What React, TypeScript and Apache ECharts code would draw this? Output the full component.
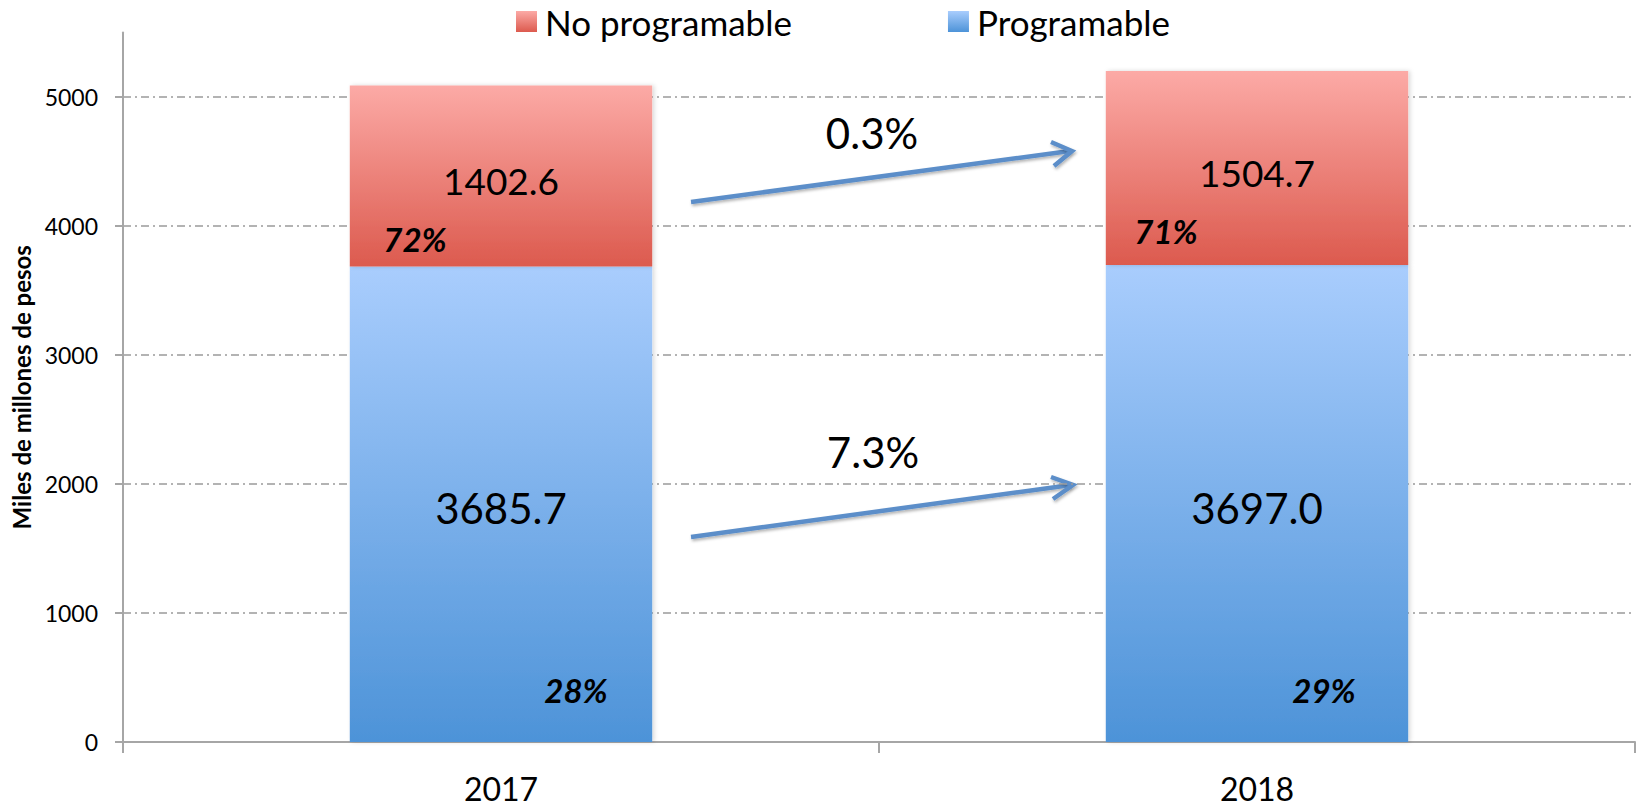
import React, { useEffect, useRef } from "react";
import * as echarts from "echarts";

const categories = ["2017", "2018"];
const programable = [3685.7, 3697.0];
const noProgramable = [1402.6, 1504.7];
const yTicks = [0, 1000, 2000, 3000, 4000, 5000];
const shareNoProg = ["72%", "71%"];
const shareProg = ["28%", "29%"];
const changeTop = "0.3%";
const changeBottom = "7.3%";
const seriesNames = ["No programable", "Programable"];

const FONT = 'Lato, "Open Sans", sans-serif';
const AXIS_GRAY = "#a6a6a6";
const GRID_GRAY = "#9a9a9a";
const ARROW = "#5b8ec9";

export default function App() {
  const ref = useRef<HTMLDivElement>(null);
  useEffect(() => {
    if (!ref.current) return;
    const chart = echarts.init(ref.current, null, { renderer: "svg" });
    const redGrad = new echarts.graphic.LinearGradient(0, 0, 0, 1, [
      { offset: 0, color: "#fcaaa6" },
      { offset: 1, color: "#dc5a4e" },
    ]);
    const blueGrad = new echarts.graphic.LinearGradient(0, 0, 0, 1, [
      { offset: 0, color: "#a9cdfd" },
      { offset: 1, color: "#4d93d8" },
    ]);
    const pctLabel = {
      show: true,
      position: "inside",
      formatter: "{b}",
      fontSize: 33,
      fontWeight: "bold",
      fontStyle: "italic",
      color: "#000",
      fontFamily: FONT,
    };
    const arrowStyle = {
      stroke: ARROW,
      lineWidth: 4.5,
      shadowBlur: 3,
      shadowColor: "rgba(0,0,0,0.3)",
      shadowOffsetY: 2,
      shadowOffsetX: 1,
    };
    chart.setOption({
      animation: false,
      textStyle: { fontFamily: FONT },
      grid: {
        left: 123,
        right: 5,
        top: 32.5,
        bottom: 66,
        containLabel: false,
        outerBoundsMode: "none",
      },
      legend: {
        data: seriesNames,
        left: 516,
        top: 4,
        padding: 0,
        itemWidth: 21,
        itemHeight: 21,
        itemGap: 156,
        icon: "rect",
        textStyle: { fontSize: 35, color: "#000", fontFamily: FONT, padding: [0, 0, 0, 3] },
      },
      xAxis: {
        type: "category",
        data: categories,
        boundaryGap: true,
        axisLine: { show: true, lineStyle: { color: AXIS_GRAY, width: 2 } },
        axisTick: { show: true, length: 11, lineStyle: { color: AXIS_GRAY, width: 2 } },
        axisLabel: { fontSize: 32, margin: 30, color: "#000", fontFamily: FONT },
        splitLine: { show: false },
      },
      yAxis: {
        type: "value",
        min: 0,
        max: 5500,
        interval: 1000,
        name: "Miles de millones de pesos",
        nameLocation: "middle",
        nameGap: 87,
        nameRotate: 90,
        nameTextStyle: { fontSize: 24, fontWeight: "bold", color: "#000", fontFamily: FONT },
        axisLine: { show: true, lineStyle: { color: AXIS_GRAY, width: 2 } },
        axisTick: { show: true, length: 8, customValues: yTicks, lineStyle: { color: AXIS_GRAY, width: 2 } },
        axisLabel: {
          customValues: yTicks,
          fontSize: 23,
          margin: 25,
          color: "#000",
          fontFamily: FONT,
          formatter: (v: number) => String(v),
        },
        splitLine: {
          show: true,
          lineStyle: { color: GRID_GRAY, width: 1.5, type: [8, 4, 2, 4] },
        },
      },
      series: [
        {
          name: "Programable",
          type: "bar",
          stack: "total",
          barWidth: "40%",
          data: programable,
          itemStyle: { color: blueGrad, shadowBlur: 4, shadowColor: "rgba(0,0,0,0.15)", shadowOffsetX: 2 },
          label: {
            show: true,
            position: "inside",
            formatter: (p: any) => Number(p.value).toFixed(1),
            fontSize: 42,
            color: "#000",
            fontFamily: FONT,
            offset: [0, 4],
            textBorderWidth: 0,
          },
          markPoint: {
            symbol: "circle",
            symbolSize: 1,
            itemStyle: { color: "rgba(0,0,0,0)" },
            label: pctLabel,
            data: [
              { name: shareProg[0], coord: [categories[0], 0], label: { offset: [75, -52] } },
              { name: shareProg[1], coord: [categories[1], 0], label: { offset: [67, -52] } },
            ],
          },
        },
        {
          name: "No programable",
          type: "bar",
          stack: "total",
          barWidth: "40%",
          data: noProgramable,
          itemStyle: { color: redGrad, shadowBlur: 4, shadowColor: "rgba(0,0,0,0.15)", shadowOffsetX: 2 },
          label: {
            show: true,
            position: "inside",
            formatter: (p: any) => Number(p.value).toFixed(1),
            fontSize: 37,
            color: "#000",
            fontFamily: FONT,
            offset: [0, 4],
            textBorderWidth: 0,
          },
          markPoint: {
            symbol: "circle",
            symbolSize: 1,
            itemStyle: { color: "rgba(0,0,0,0)" },
            label: pctLabel,
            data: [
              { name: shareNoProg[0], coord: [categories[0], programable[0]], label: { offset: [-86, -28] } },
              { name: shareNoProg[1], coord: [categories[1], programable[1]], label: { offset: [-91, -34] } },
            ],
          },
        },
      ],
      graphic: [
        { type: "line", shape: { x1: 691, y1: 202, x2: 1070, y2: 151 }, style: arrowStyle },
        {
          type: "polyline",
          shape: { points: [[1051, 142], [1072, 151], [1054, 166]] },
          style: { ...arrowStyle, fill: null, lineJoin: "miter" },
        },
        { type: "line", shape: { x1: 691, y1: 537, x2: 1071, y2: 485 }, style: arrowStyle },
        {
          type: "polyline",
          shape: { points: [[1051, 477], [1073, 485], [1053, 499]] },
          style: { ...arrowStyle, fill: null, lineJoin: "miter" },
        },
        {
          type: "text",
          x: 872,
          y: 133,
          style: { text: changeTop, fontSize: 42, fontFamily: FONT, fill: "#000", align: "center", verticalAlign: "middle" },
        },
        {
          type: "text",
          x: 873,
          y: 452,
          style: { text: changeBottom, fontSize: 42, fontFamily: FONT, fill: "#000", align: "center", verticalAlign: "middle" },
        },
      ],
    });
    return () => chart.dispose();
  }, []);
  return (
    <div
      ref={ref}
      style={{ position: "absolute", left: 0, top: 0, width: 1640, height: 808, background: "#fff" }}
    />
  );
}
